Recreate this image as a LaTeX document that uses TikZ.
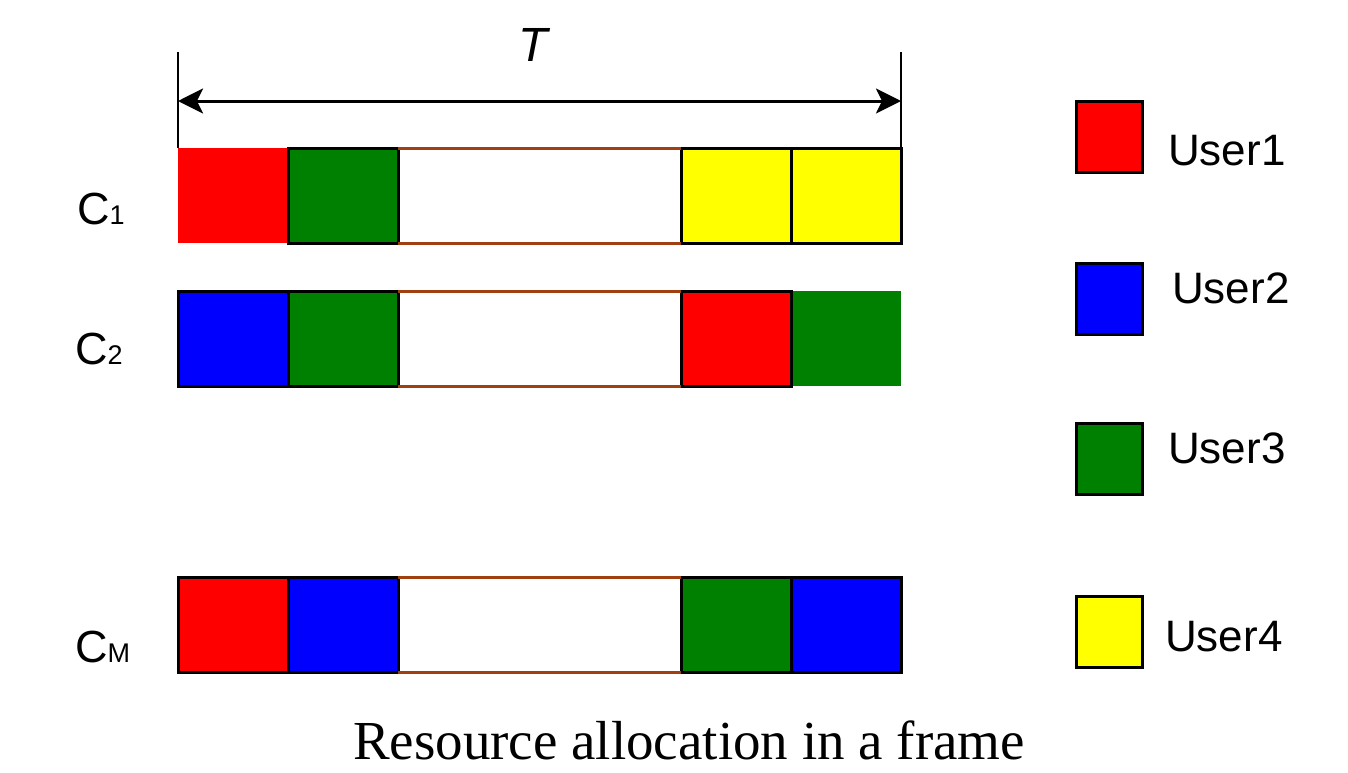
\documentclass[tikz,border=0pt]{standalone}
\usepackage{fontspec}
\setmainfont{Liberation Serif}
\setsansfont{Liberation Sans}
\usetikzlibrary{arrows.meta}
\definecolor{ured}{RGB}{255,0,0}
\definecolor{ugreen}{RGB}{0,128,0}
\definecolor{ublue}{RGB}{0,0,255}
\definecolor{uyellow}{RGB}{255,255,0}
\definecolor{gapbrown}{RGB}{160,64,16}
\begin{document}
\begin{tikzpicture}[x=1pt,y=-1pt,
  cell/.style={anchor=north west, minimum width=110pt, minimum height=95pt, inner sep=0pt, outer sep=0pt, line width=3pt},
  bcell/.style={cell, draw=black},
  gapline/.style={draw=gapbrown, line width=3pt},
  legbox/.style={draw=black, line width=3pt, minimum width=66pt, minimum height=71pt, inner sep=0pt, anchor=north west},
  legtext/.style={anchor=base west, inner sep=0pt, font=\sffamily\fontsize{44}{48}\selectfont},
  chlabel/.style={anchor=base west, inner sep=0pt, font=\sffamily\fontsize{45}{48}\selectfont},
  dimline/.style={line width=2.5pt}
]
\useasboundingbox (0,0) rectangle (1348,772);
% row C1
\node[cell, fill=ured] (a1) at (178,148) {};
\node[bcell, fill=ugreen] (a2) at (288,148) {};
\node[bcell, fill=uyellow] (a3) at (681,148) {};
\node[bcell, fill=uyellow] (a4) at (791,148) {};
\draw[gapline] (a2.north east) -- (a3.north west);
\draw[gapline] (a2.south east) -- (a3.south west);
% row C2
\node[bcell, fill=ublue] (b1) at (178,291) {};
\node[bcell, fill=ugreen] (b2) at (288,291) {};
\node[cell, fill=ugreen] (b4) at (791,291) {};
\node[bcell, fill=ured] (b3) at (681,291) {};
\draw[gapline] (b2.north east) -- (b3.north west);
\draw[gapline] (b2.south east) -- (b3.south west);
% row CM
\node[bcell, fill=ured] (m1) at (178,577) {};
\node[bcell, fill=ublue] (m2) at (288,577) {};
\node[bcell, fill=ugreen] (m3) at (681,577) {};
\node[bcell, fill=ublue] (m4) at (791,577) {};
\draw[gapline] (m2.north east) -- (m3.north west);
\draw[gapline] (m2.south east) -- (m3.south west);
% dimension T
\coordinate (tl) at (178,52);
\coordinate (tr) at (901,52);
\coordinate (al) at (178,101);
\coordinate (ar) at (901,101);
\draw[dimline] (tl) -- (a1.north west);
\draw[dimline] (tr) -- (a4.north east);
\draw[line width=3pt, {Stealth[length=25pt,width=25pt,inset=6pt]}-{Stealth[length=25pt,width=25pt,inset=6pt]}] (al) -- (ar);
\node[anchor=base, inner sep=0pt, font=\sffamily\itshape\fontsize{48}{50}\selectfont] (T) at (533,61) {T};
% channel labels
\node[chlabel] (c1) at (77,224) {C{\fontsize{27}{30}\selectfont 1}};
\node[chlabel] (c2) at (75,364) {C{\fontsize{27}{30}\selectfont 2}};
\node[chlabel] (cm) at (75,662) {C{\fontsize{27}{30}\selectfont M}};
% legend
\node[legbox, fill=ured] (l1) at (1075,100) {};
\node[legbox, fill=ublue] (l2) at (1075,262) {};
\node[legbox, fill=ugreen] (l3) at (1075,422) {};
\node[legbox, fill=uyellow] (l4) at (1075,595) {};
\node[legtext] (u1) at (1168,165) {User1};
\node[legtext] (u2) at (1172,303) {User2};
\node[legtext] (u3) at (1168,463) {User3};
\node[legtext] (u4) at (1165,651) {User4};
% caption
\node[anchor=base, inner sep=0pt, font=\rmfamily\fontsize{55}{58}\selectfont] (cap) at (689,759) {Resource allocation in a frame};
\end{tikzpicture}
\end{document}
